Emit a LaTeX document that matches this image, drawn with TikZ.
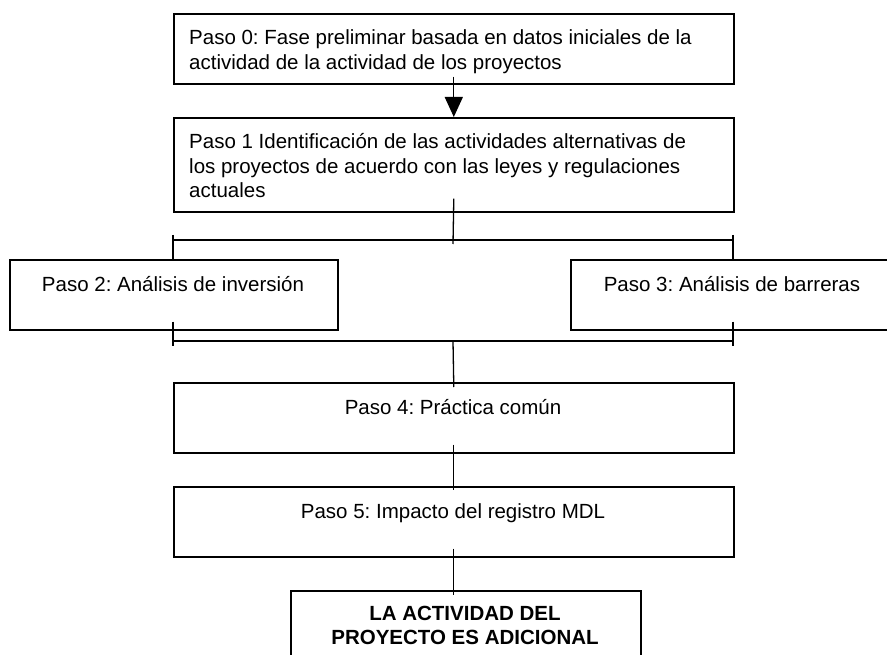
\documentclass[tikz,border=0pt]{standalone}
\usepackage{fontspec}
\setmainfont{Liberation Sans}
\usetikzlibrary{arrows.meta,calc}
\newcommand\myLstack[1]{\begin{tabular}[t]{@{}l@{}}#1\end{tabular}}
\newcommand\myCstack[1]{\begin{tabular}[t]{@{}c@{}}#1\end{tabular}}
\frenchspacing
\begin{document}
\begin{tikzpicture}[x=1pt,y=-1pt,
  box/.style={draw, line width=1.6pt, inner sep=0pt, anchor=north west},
  link/.style={line width=1.3pt},
  txt/.style={inner sep=0pt, font=\fontsize{20.5}{24.5}\selectfont},
]
\useasboundingbox (0,0) rectangle (887,655);
\fill[white] (0,0) rectangle (887,655);

% boxes
\node[box, minimum width=560pt, minimum height=70pt] (b0) at (173,13) {};
\node[box, minimum width=560pt, minimum height=94pt] (b1) at (173,117) {};
\node[box, minimum width=328pt, minimum height=70pt] (b2) at (9,259) {};
\node[box, minimum width=324pt, minimum height=70pt] (b3) at (570,259) {};
\node[box, minimum width=560pt, minimum height=70pt] (b4) at (173,382) {};
\node[box, minimum width=560pt, minimum height=70pt] (b5) at (173,486) {};
\node[box, minimum width=350pt, minimum height=80pt] (b6) at (290,590) {};

% texts
\node[txt, anchor=base west] (t0) at (189,45) {\myLstack{Paso 0: Fase preliminar basada en datos iniciales de la\\ actividad de la actividad de los proyectos}};
\node[txt, anchor=base west] (t1) at (189,149) {\myLstack{Paso 1 Identificación de las actividades alternativas de\\ los proyectos de acuerdo con las leyes y regulaciones\\ actuales}};
\node[txt, anchor=base] (t2) at (173,292) {Paso 2: Análisis de inversión};
\node[txt, anchor=base] (t3) at (732,292) {Paso 3: Análisis de barreras};
\node[txt, anchor=base] (t4) at (453,414) {Paso 4: Práctica común};
\node[txt, anchor=base] (t5) at (453,518) {Paso 5: Impacto del registro MDL};
\node[txt, anchor=base, font=\fontsize{20.5}{24}\selectfont\bfseries] (t6) at (465,620) {\myCstack{LA ACTIVIDAD DEL\\ PROYECTO ES ADICIONAL}};

% connectors
\draw[link, -{Triangle[length=20pt,width=18pt]}] ($(b0.south)+(0,-8)$) -- (b1.north);

\coordinate (j1) at (453,240);
\coordinate (j1l) at (173,240);
\coordinate (j1r) at (733,240);
\draw[link] ($(b1.south)+(0,-14)$) -- ($(j1)+(0,4)$);
\draw[link] (j1l) -- (j1r);
\draw[link] ($(j1l)+(0,-5)$) -- (j1l |- b2.north);
\draw[link] ($(j1r)+(0,-5)$) -- (j1r |- b3.north);

\coordinate (j2) at (453,341);
\coordinate (j2l) at (173,341);
\coordinate (j2r) at (733,341);
\draw[link] (j2l) -- (j2r);
\draw[link] ($(b2.south -| j2l)+(0,-9)$) -- ($(j2l)+(0,5)$);
\draw[link] ($(b3.south -| j2r)+(0,-9)$) -- ($(j2r)+(0,5)$);
\draw[link] (j2) -- ($(b4.north)+(0,5)$);

\draw[link] ($(b4.south)+(0,-9)$) -- ($(b5.north)+(0,4)$);
\draw[link] ($(b5.south)+(0,-9)$) -- ($(b6.north -| b5.south)+(0,5)$);
\end{tikzpicture}
\end{document}
